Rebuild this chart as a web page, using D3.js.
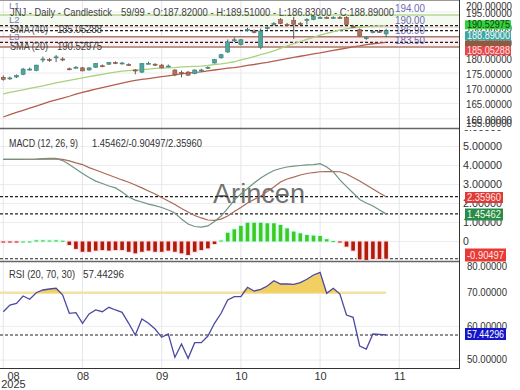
<!DOCTYPE html>
<html><head><meta charset="utf-8">
<script src="https://cdn.jsdelivr.net/npm/d3@7"></script>
<style>body{margin:0;background:#fff;} svg{display:block;font-family:"Liberation Sans",Arial,sans-serif;}</style>
</head><body><svg id="c" width="520" height="390"></svg>
<script>
// ---------- DATA ----------
const openP  = [173.6,173.2,173.7,174.6,176.1,175.9,179.4,179.4,180.0,179.6,176.4,176.7,176.7,176.0,176.9,177.4,177.9,178.4,178.2,177.8,176.0,175.3,178.1,177.9,177.6,177.2,176.0,175.2,175.3,174.8,175.9,176.6,178.3,180.0,181.9,185.8,184.3,189.1,188.6,183.5,189.7,191.0,192.5,190.9,192.3,191.2,192.4,192.5,193.1,193.2,193.0,193.2,193.2,190.3,189.2,186.5,188.5,188.6,187.82];
const highP  = [174.2,173.8,174.5,176.7,176.8,177.7,180.4,179.9,180.9,180.2,176.8,177.3,177.0,176.9,178.3,177.8,178.6,178.8,178.6,178.2,176.3,178.3,178.7,178.2,178.0,177.8,176.2,175.8,175.7,176.2,176.4,177.2,179.6,181.3,186.0,186.7,186.2,189.8,189.2,189.6,190.3,191.7,193.0,191.4,193.4,191.7,193.0,193.8,193.6,193.6,193.6,193.7,193.6,190.8,189.6,187.0,189.0,189.2,189.51];
const lowP   = [172.5,172.8,173.4,174.3,175.8,175.6,178.5,178.7,178.6,178.9,175.9,176.5,175.6,175.8,176.7,176.9,177.7,177.9,177.8,177.4,174.6,175.0,177.9,177.3,176.5,176.9,174.0,173.6,174.1,174.6,175.4,176.3,178.1,179.7,181.6,185.2,184.0,188.6,188.0,182.8,189.2,190.6,191.0,190.3,186.2,190.7,190.9,192.3,192.7,192.8,192.7,192.8,190.6,189.8,187.0,185.9,188.0,188.2,186.83];
const closeP = [172.9,173.4,174.2,176.3,176.3,177.6,179.6,179.2,180.3,179.4,176.2,176.9,175.7,176.7,178.1,177.2,178.5,178.2,178.3,177.6,175.8,178.1,178.2,177.6,176.7,177.3,174.4,175.0,174.3,176.0,176.0,176.9,179.4,181.0,185.2,185.9,185.9,189.3,188.4,188.8,189.9,191.2,191.2,190.8,191.0,191.1,192.5,193.5,193.2,193.1,193.2,193.1,190.9,190.1,187.2,186.6,188.6,188.5,188.89];
const sma20 = [168.2,168.7,169.1,169.5,170.0,170.4,170.8,171.3,171.8,172.2,172.6,173.0,173.4,173.8,174.2,174.6,175.0,175.3,175.6,175.8,176.0,176.1,176.3,176.5,176.6,176.7,176.8,177.0,177.1,177.2,177.3,177.5,177.8,178.0,178.3,178.7,179.3,179.8,180.4,181.0,181.6,182.3,183.1,183.9,184.6,185.3,186.0,186.7,187.4,188.0,188.6,189.1,189.5,189.8,190.0,190.2,190.35,190.45,190.52975];
const sma40 = [160.6,161.4,162.1,162.8,163.5,164.2,164.9,165.6,166.2,166.8,167.4,168.1,168.7,169.2,169.7,170.2,170.7,171.2,171.7,172.2,172.6,172.9,173.2,173.5,173.8,174.1,174.4,174.7,175.0,175.2,175.4,175.7,176.0,176.3,176.6,176.8,177.1,177.5,177.8,178.2,178.5,178.9,179.3,179.7,180.1,180.5,180.9,181.3,181.6,182.0,182.4,182.8,183.2,183.6,183.9,184.3,184.6,184.8,185.05288];
const macdLine = [4.32,4.32,4.32,4.33,4.33,4.34,4.36,4.37,4.37,4.26,4.05,3.82,3.58,3.37,3.18,3.05,2.92,2.82,2.61,2.34,2.18,2.08,1.97,1.89,1.79,1.66,1.50,1.18,0.92,0.79,0.76,0.82,1.05,1.34,1.74,2.18,2.50,2.79,3.08,3.34,3.55,3.74,3.84,3.92,3.97,4.00,4.03,4.05,4.10,3.92,3.66,3.24,2.89,2.55,2.21,2.03,1.87,1.66,1.45462];
const signalLine = [4.32,4.32,4.33,4.33,4.33,4.33,4.34,4.34,4.35,4.32,4.24,4.14,4.05,3.89,3.76,3.63,3.50,3.37,3.24,3.12,2.97,2.82,2.66,2.50,2.32,2.13,1.95,1.74,1.55,1.37,1.24,1.13,1.11,1.18,1.34,1.58,1.79,2.03,2.21,2.39,2.63,2.87,3.13,3.29,3.39,3.50,3.58,3.63,3.67,3.68,3.68,3.67,3.55,3.37,3.18,2.97,2.76,2.55,2.35960];
const histVals = [-0.04,-0.04,-0.04,0,0,0.06,0.06,0.05,0.06,0.04,-0.18,-0.39,-0.54,-0.54,-0.48,-0.45,-0.48,-0.45,-0.45,-0.54,-0.62,-0.54,-0.48,-0.54,-0.54,-0.48,-0.54,-0.62,-0.71,-0.54,-0.45,-0.36,-0.13,0.05,0.46,0.64,0.82,0.99,0.99,0.99,0.96,0.96,0.87,0.69,0.52,0.43,0.34,0.31,0.29,0.12,0.02,-0.05,-0.27,-0.48,-0.94,-0.97,-0.92,-0.92,-0.90497];
const rsiVals = [64.36,66.35,66.85,69.02,68.04,70.0,70.8,71.1,71.31,69.32,63.89,64.07,60.92,63.68,64.87,64.36,65.67,64.87,64.18,60.92,57.45,62.2,60.92,59.23,56.77,57.74,50.83,54.78,50.53,55.16,55.16,57.15,60.92,63.89,67.83,68.81,68.81,71.6,70.5,71.0,71.99,73.56,72.58,72.58,72.49,72.97,73.98,75.25,76.05,69.82,71.31,69.61,63.38,62.7,54.18,53.29,57.74,57.66,57.44296];
const xTickIdx = [0,12,24,36,48,60];
const xTickLabels = ["08","08","09","10","10","11"];
const priceTicks = [155,160,165,170,175,180,185,190,195,200];
const macdTicks = [0,1,2,3,4,5,6];
const rsiTicks = [50,60,70,80];
const levelVals = [194.00,190.00,186.90,183.50];
const levelNames = ["L1","L2","L3"];

// ---------- LAYOUT ----------
const svg = d3.select("#c");
const R = 459;
const P = {top:0,bottom:128}, M={top:129,bottom:261}, Q={top:262,bottom:368};
const x = d3.scaleLinear().domain([0,69]).range([3.3,458.7]);
const yP = d3.scaleLinear().domain([157,198.93]).range([128,0]);
const yM = d3.scaleLinear().domain([0,1]).range([241.5,222.5]);
const yR = d3.scaleLinear().domain([50,70]).range([360.1,292.7]);
const idx = d3.range(closeP.length);
const defs = svg.append("defs");
[["cp",P],["cm",M],["cr",Q]].forEach(([id,p])=>{
  defs.append("clipPath").attr("id",id).append("rect").attr("x",0).attr("y",p.top).attr("width",R).attr("height",p.bottom-p.top);
});
defs.append("clipPath").attr("id","cma").append("rect").attr("x",R).attr("y",M.top+1).attr("width",61).attr("height",M.bottom-M.top);

const fmt5 = d=> d===0?"0":d.toFixed(5);
function txt(g,xx,yy,s,len,fs,col){
  const t = g.append("text").attr("x",xx).attr("y",yy).attr("font-size",fs||10).attr("fill",col||"#444").text(s);
  if(len) t.attr("textLength",len).attr("lengthAdjust","spacingAndGlyphs");
  return t;
}
function vgrid(g,p){
  g.selectAll(null).data(xTickIdx).enter().append("line")
   .attr("x1",d=>x(d)).attr("x2",d=>x(d)).attr("y1",p.top).attr("y2",p.bottom)
   .attr("stroke","#e6e6ea").attr("stroke-width",1);
}
function hgrid(g,vals,y){
  g.selectAll(null).data(vals).enter().append("line")
   .attr("x1",0).attr("x2",R).attr("y1",d=>y(d)).attr("y2",d=>y(d))
   .attr("stroke","#ececf0").attr("stroke-width",1);
}
function dotted(g,y){
  g.append("line").attr("x1",0).attr("x2",R).attr("y1",y).attr("y2",y)
   .attr("stroke","#222").attr("stroke-width",1.1).attr("stroke-dasharray","3,2");
}
function tag(y,text,bg,fg,h,w,tl){
  h=h||11; w=w||44;
  svg.append("rect").attr("x",465).attr("y",y-h/2).attr("width",w).attr("height",h).attr("fill",bg);
  if(text) txt(svg,467,y+3.6,text,tl,10,fg);
}

// ---------- PRICE PANEL ----------
const gp = svg.append("g").attr("clip-path","url(#cp)");
hgrid(gp,priceTicks,yP); vgrid(gp,P);
gp.append("rect").attr("x",0).attr("width",R).attr("y",yP(194)).attr("height",yP(190)-yP(194)).attr("fill","#f5faf1");
gp.append("rect").attr("x",0).attr("width",R).attr("y",yP(186.9)).attr("height",yP(183.5)-yP(186.9)).attr("fill","#fcedf0");
const lvlColors = ["#b6d98f","#f0d8d8","#a87868","#a87868"];
levelVals.forEach((v,k)=>{
  gp.append("line").attr("x1",0).attr("x2",R).attr("y1",yP(v)).attr("y2",yP(v)).attr("stroke",lvlColors[k]).attr("stroke-width",1.5);
  txt(gp,395,yP(v)-3,v.toFixed(2),30,10,"#6b6bb8");
});
levelNames.forEach((n,k)=>{
  txt(gp,9,[9,23,40][k],n,null,9.5,"#7a7ab0");
});
dotted(gp,yP(sma20[sma20.length-1])); dotted(gp,yP(closeP[closeP.length-1])); dotted(gp,yP(sma40[sma40.length-1]));
const lineP = arr => d3.line().x((d,i)=>x(i)).y(d=>yP(d))(arr);
gp.append("path").attr("d",lineP(sma20)).attr("fill","none").attr("stroke","#a9d27a").attr("stroke-width",1.3);
gp.append("path").attr("d",lineP(sma40)).attr("fill","none").attr("stroke","#b55e4e").attr("stroke-width",1.3);
const cg = gp.selectAll(".cd").data(idx).enter().append("g");
cg.append("line").attr("x1",i=>x(i)).attr("x2",i=>x(i)).attr("y1",i=>yP(highP[i])).attr("y2",i=>yP(lowP[i])).attr("stroke","#4d5e5a").attr("stroke-width",1);
cg.append("rect").attr("x",i=>x(i)-2).attr("width",4)
  .attr("y",i=>yP(Math.max(openP[i],closeP[i])))
  .attr("height",i=>Math.max(1,Math.abs(yP(openP[i])-yP(closeP[i]))))
  .attr("fill",i=>closeP[i]>=openP[i]?"#4ea59c":"#b0705a")
  .attr("stroke",i=>closeP[i]>=openP[i]?"#3a7f79":"#8c4e3e").attr("stroke-width",0.6);
txt(gp,10,16,"JNJ - Daily - Candlestick",102,10.5);
txt(gp,121,16,"59/99 - O:187.82000 - H:189.51000 - L:186.83000 - C:188.89000",273,10.5);
txt(gp,10,33,"SMA (40)",38,10.5);
txt(gp,57,33,"185.05288",45,10.5);
txt(gp,10,50,"SMA (20)",38,10.5);
txt(gp,57,50,"190.52975",45,10.5);

// ---------- MACD PANEL ----------
const gm = svg.append("g").attr("clip-path","url(#cm)");
hgrid(gm,macdTicks,yM); vgrid(gm,M);
txt(gm,213,203,"Arincen",92,28,"#5a5a5a").attr("opacity",0.85);
dotted(gm,yM(signalLine[signalLine.length-1])); dotted(gm,yM(macdLine[macdLine.length-1])); dotted(gm,yM(histVals[histVals.length-1]));
gm.selectAll(".hh").data(idx).enter().append("rect")
  .attr("x",i=>x(i)-3.2).attr("width",6.4)
  .attr("y",i=>Math.min(yM(0),yM(histVals[i]))-1)
  .attr("height",i=>Math.abs(yM(histVals[i])-yM(0))+2)
  .attr("fill",i=>histVals[i]>=0?"#dcfbfb":"#fde0ea");
gm.selectAll(".hb").data(idx).enter().append("rect")
  .attr("x",i=>x(i)-1.8).attr("width",3.6)
  .attr("y",i=>Math.min(yM(0),yM(histVals[i])))
  .attr("height",i=>Math.max(1,Math.abs(yM(histVals[i])-yM(0))))
  .attr("fill",i=>histVals[i]>=0?"#3ccc1e":"#b01c06");
const lineM = arr => d3.line().x((d,i)=>x(i)).y(d=>yM(d))(arr);
gm.append("path").attr("d",lineM(signalLine)).attr("fill","none").attr("stroke","#a86a56").attr("stroke-width",1.2);
gm.append("path").attr("d",lineM(macdLine)).attr("fill","none").attr("stroke","#6f9480").attr("stroke-width",1.2);
txt(gm,9,147,"MACD (12, 26, 9)",69,10.5,"#333");
txt(gm,92,147,"1.45462/-0.90497/2.35960",110,10.5,"#333");

// ---------- RSI PANEL ----------
const gr = svg.append("g").attr("clip-path","url(#cr)");
hgrid(gr,[50,60,80],yR); vgrid(gr,Q);
gr.append("line").attr("x1",0).attr("x2",x(58)).attr("y1",yR(70)).attr("y2",yR(70)).attr("stroke","#f2e2a4").attr("stroke-width",2.5);
gr.append("path").attr("d",d3.area().x((d,i)=>x(i)).y0(yR(70)).y1(d=>yR(Math.max(70,d)))(rsiVals)).attr("fill","#f1cf62");
dotted(gr,yR(rsiVals[rsiVals.length-1]));
gr.append("path").attr("d",d3.line().x((d,i)=>x(i)).y(d=>yR(d))(rsiVals)).attr("fill","none").attr("stroke","#4b4aa3").attr("stroke-width",1.3);
txt(gr,9,278,"RSI (20, 70, 30)",66,10.5,"#333");
txt(gr,83,278,"57.44296",41,10.5,"#333");

// ---------- FRAME ----------
svg.append("line").attr("x1",0).attr("x2",R).attr("y1",0.5).attr("y2",0.5).attr("stroke","#999");
[128.5,261.5].forEach(y=>svg.append("line").attr("x1",0).attr("x2",R).attr("y1",y).attr("y2",y).attr("stroke","#666").attr("stroke-width",1.5));
svg.append("line").attr("x1",0).attr("x2",R).attr("y1",368.5).attr("y2",368.5).attr("stroke","#333");
svg.append("line").attr("x1",R+0.5).attr("x2",R+0.5).attr("y1",0).attr("y2",369).attr("stroke","#333");

// ---------- AXES ----------
function styleAxis(g){ g.select(".domain").remove(); g.selectAll(".tick line").remove();
  g.selectAll("text").attr("font-size",10.5).attr("fill","#333").attr("font-family","Liberation Sans, Arial, sans-serif"); }
const ap = svg.append("g").attr("transform",`translate(${R+7},0)`)
  .call(d3.axisRight(yP).tickValues(priceTicks).tickFormat(fmt5).tickSize(0).tickPadding(0));
styleAxis(ap);
ap.selectAll("text").attr("textLength",46).attr("lengthAdjust","spacingAndGlyphs");
ap.selectAll(".tick").attr("transform",d=>`translate(0,${Math.max(7,Math.min(124,yP(d)+1.5))})`);
const am = svg.append("g").attr("clip-path","url(#cma)").append("g").attr("transform",`translate(${R+4},0)`)
  .call(d3.axisRight(yM).tickValues(macdTicks).tickFormat(fmt5).tickSize(0).tickPadding(0));
styleAxis(am);
am.selectAll("text").filter(d=>d!==0).attr("textLength",39).attr("lengthAdjust","spacingAndGlyphs");
am.selectAll(".tick").attr("transform",d=>`translate(0,${yM(d)+0.5})`);
const ar = svg.append("g").attr("transform",`translate(${R+8},0)`)
  .call(d3.axisRight(yR).tickValues(rsiTicks).tickFormat(fmt5).tickSize(0).tickPadding(0));
styleAxis(ar);
ar.selectAll("text").attr("textLength",40).attr("lengthAdjust","spacingAndGlyphs");
ar.selectAll(".tick").attr("transform",d=>`translate(0,${Math.max(267,yR(d))})`);
const ax = svg.append("g").attr("transform",`translate(0,369)`)
  .call(d3.axisBottom(x).tickValues(xTickIdx).tickFormat((d,k)=>xTickLabels[k]).tickSize(0).tickPadding(3));
styleAxis(ax);
ax.selectAll("text").attr("font-size",11);
ax.selectAll(".tick").filter(d=>d===0).attr("transform","translate(13.5,0)");
svg.append("text").attr("x",13.5).attr("y",388).attr("text-anchor","middle").attr("font-size",11).attr("fill","#333").text("2025");

// ---------- TAGS ----------
tag(24.8,"190.52975","#2fd33a","#1a3a1a",9,46,43);
tag(35.8,"188.89000","#3fa6a2","#f4ffff",9,46,43);
tag(44,"","#8e5a40","#fff",7,46);
tag(50.8,"185.05288","#e8474c","#ffe4e4",9,46,43);
tag(197.5,"2.35960","#e03a36","#ffe8e8",11,38,34);
tag(214.5,"1.45462","#2a8a48","#e8ffe8",12,38,34);
tag(255,"-0.90497","#e83a34","#ffe8e8",13,41,37);
tag(334,"57.44296","#1414c8","#ffffff",12,41,37);
</script></body></html>
